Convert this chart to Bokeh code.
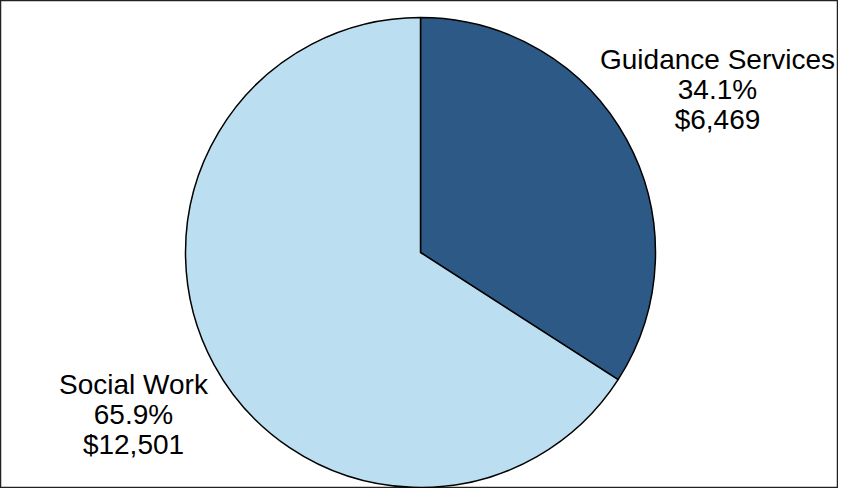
import numpy as np
from bokeh.plotting import figure
from bokeh.models import Range1d, ColumnDataSource
from bokeh.core.properties import value
from bokeh.embed import file_html
from bokeh.resources import INLINE

# ---- data ----
categories = ["Guidance Services", "Social Work"]
amounts = [6469, 12501]
colors = ["#2D5986", "#BBDEF0"]

W, H = 838, 488
p = figure(width=W, height=H, output_backend="svg", toolbar_location=None,
           x_range=Range1d(0, W), y_range=Range1d(0, H), min_border=0)
p.axis.visible = False
p.grid.visible = False
p.outline_line_color = "#222222"
p.outline_line_width = 1.5
p.background_fill_color = "white"

vals = np.array(amounts, dtype=float)
frac = vals / vals.sum()
# start at 12 o'clock, go clockwise
cum = np.concatenate([[0], np.cumsum(frac)])
start = np.pi / 2 - cum[1:] * 2 * np.pi
end = np.pi / 2 - cum[:-1] * 2 * np.pi

cx, cy, r = 420, 236, 235
src = ColumnDataSource(dict(start=start, end=end, color=colors,
                            x=[cx] * len(vals), y=[cy] * len(vals)))
p.wedge(x="x", y="y", radius=r, start_angle="start", end_angle="end",
        fill_color="color", line_color="black", line_width=1.5, source=src)

labels = [f"{c}\n{f*100:.1f}%\n${int(a):,}" for c, f, a in zip(categories, frac, amounts)]
lx = [717, 133]
ly = [399, 74]
p.text(x=lx, y=ly, text=labels, text_align="center", text_baseline="middle",
       text_font=value("Liberation Sans"), text_font_size="28px",
       text_line_height=0.97, text_color="black")

open("out.html", "w").write(file_html(p, INLINE))
